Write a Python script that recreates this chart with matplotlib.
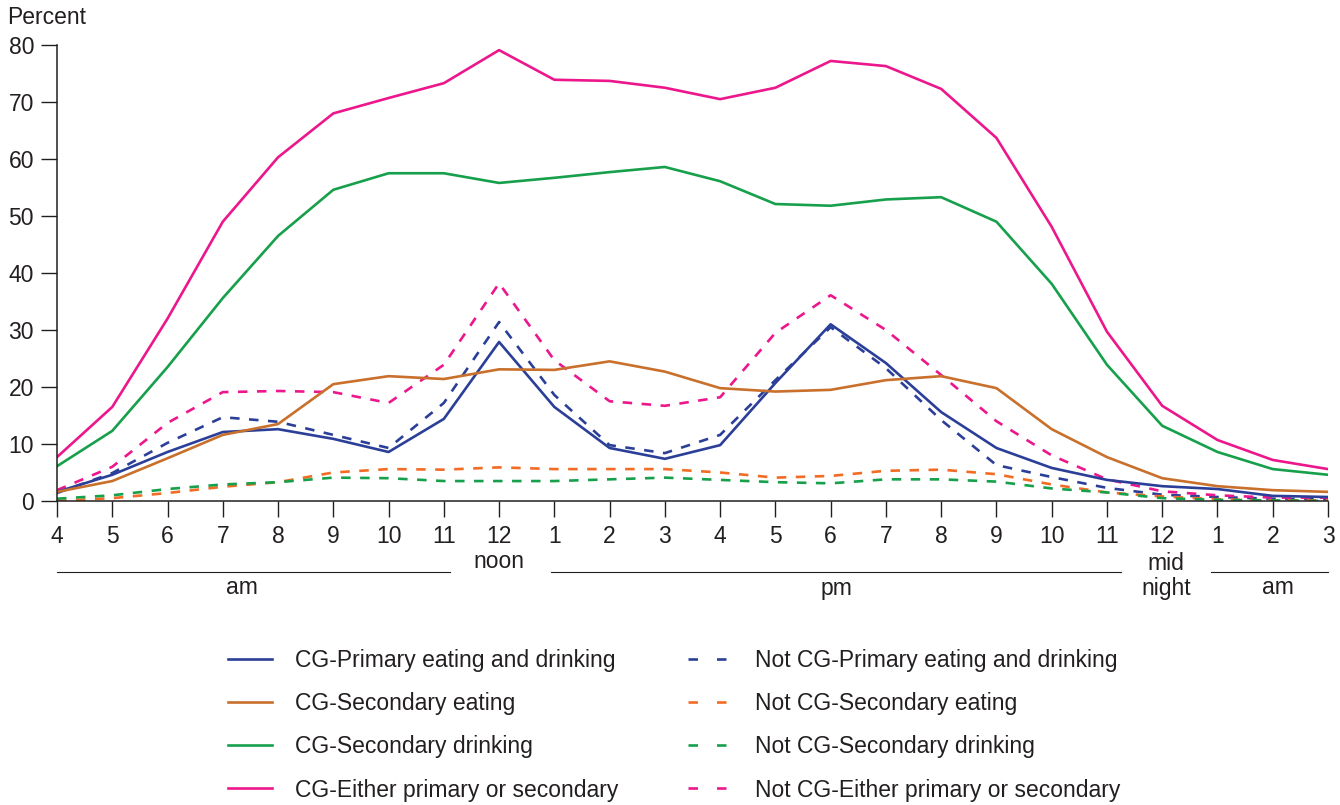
import matplotlib
matplotlib.use("Agg")
import matplotlib.pyplot as plt
from matplotlib.lines import Line2D

plt.rcParams['font.family'] = ['Liberation Sans', 'DejaVu Sans']

hours = ["4", "5", "6", "7", "8", "9", "10", "11", "12", "1", "2", "3", "4", "5", "6",
         "7", "8", "9", "10", "11", "12", "1", "2", "3"]

cg_primary = [1.6, 4.6, 8.6, 12.1, 12.6, 10.9, 8.6, 14.4, 27.9, 16.5, 9.3, 7.4, 9.8, 20.7,
              31.0, 24.2, 15.6, 9.3, 5.8, 3.7, 2.6, 2.1, 0.9, 0.7]
cg_sec_eating = [1.6, 3.5, 7.5, 11.6, 13.5, 20.5, 21.9, 21.4, 23.1, 23.0, 24.5, 22.7, 19.8,
                 19.2, 19.5, 21.2, 21.9, 19.8, 12.6, 7.7, 4.0, 2.6, 1.9, 1.6]
cg_sec_drinking = [6.1, 12.3, 23.5, 35.6, 46.5, 54.6, 57.5, 57.5, 55.8, 56.7, 57.7, 58.6, 56.1,
                   52.1, 51.8, 52.9, 53.3, 49.0, 38.1, 23.9, 13.2, 8.6, 5.6, 4.6]
cg_either = [7.7, 16.5, 32.0, 49.0, 60.3, 68.0, 70.7, 73.3, 79.1, 73.9, 73.7, 72.5, 70.5,
             72.5, 77.2, 76.3, 72.3, 63.7, 48.1, 29.7, 16.7, 10.7, 7.2, 5.6]
not_primary = [1.4, 4.9, 10.2, 14.7, 13.9, 11.6, 9.3, 17.2, 31.4, 18.6, 9.8, 8.4, 11.6, 21.2,
               30.5, 23.3, 14.2, 6.3, 4.2, 2.3, 1.1, 0.7, 0.4, 0.3]
not_sec_eating = [0.0, 0.5, 1.4, 2.5, 3.3, 5.0, 5.6, 5.5, 5.9, 5.6, 5.6, 5.6, 5.0, 4.1, 4.4,
                  5.3, 5.5, 4.7, 2.9, 1.5, 0.8, 0.3, 0.1, 0.1]
not_sec_drinking = [0.4, 1.0, 2.1, 2.9, 3.3, 4.1, 4.0, 3.5, 3.5, 3.5, 3.8, 4.1, 3.7, 3.3, 3.1,
                    3.8, 3.8, 3.4, 2.2, 1.5, 0.5, 0.2, 0.1, 0.0]
not_either = [1.9, 6.0, 13.7, 19.1, 19.3, 19.1, 17.2, 23.9, 38.2, 24.7, 17.5, 16.7, 18.2, 29.5,
              36.1, 30.0, 22.1, 14.0, 8.0, 3.8, 1.7, 1.0, 0.6, 0.6]

labels_cg = ["CG-Primary eating and drinking", "CG-Secondary eating",
             "CG-Secondary drinking", "CG-Either primary or secondary"]
labels_not = ["Not CG-Primary eating and drinking", "Not CG-Secondary eating",
              "Not CG-Secondary drinking", "Not CG-Either primary or secondary"]

col_blue = "#2b3f98"
col_orange = "#c8702c"
col_orange_d = "#f26c24"
col_green = "#17a04b"
col_magenta = "#ec178c"
ink = '#231f20'
FS = 16.5

fig = plt.figure(figsize=(13.4, 8.05), dpi=100)
ax = fig.add_axes([57/1340, 1 - 501/805, (1328 - 57)/1340, (501 - 45)/805])

x = list(range(len(hours)))
lw = 1.9
dash = (3.6, 3.6)

series_solid = [(cg_primary, col_blue), (cg_sec_eating, col_orange),
                (cg_sec_drinking, col_green), (cg_either, col_magenta)]
series_dash = [(not_primary, col_blue), (not_sec_eating, col_orange_d),
               (not_sec_drinking, col_green), (not_either, col_magenta)]

for vals, c in series_dash:
    ax.plot(x, vals, color=c, lw=lw, dashes=dash)
for vals, c in series_solid:
    ax.plot(x, vals, color=c, lw=lw)

ax.set_xlim(0, 23)
ax.set_ylim(0, 80)
ax.set_yticks(range(0, 81, 10))
ax.set_xticks(x)
ax.set_xticklabels(hours)
for s in ['top', 'right']:
    ax.spines[s].set_visible(False)
for s in ['left', 'bottom']:
    ax.spines[s].set_linewidth(1.1)
    ax.spines[s].set_color(ink)
ax.tick_params(axis='both', direction='out', length=11.5, width=1.0, color=ink,
               labelsize=FS, labelcolor=ink)
ax.tick_params(axis='y', pad=5.0)
ax.tick_params(axis='x', pad=6.0)

fig.text(7/1340, 1 - 18/805, "Percent", fontsize=FS, color=ink, ha='left', va='center')

# period annotations below the axis
tr = ax.get_xaxis_transform()
ax_h = 456.0
def yfrac(py):
    return (501 - py) / ax_h

line_y = yfrac(572)
for x0, x1 in [(0, 7.11), (8.94, 19.25), (20.88, 23)]:
    ax.plot([x0, x1], [line_y, line_y], transform=tr, color=ink, lw=0.8, clip_on=False)
ax.text(8, yfrac(562), "noon", transform=tr, ha='center', va='center', fontsize=FS, color=ink)
ax.text(20.07, yfrac(576), "mid\nnight", transform=tr, ha='center', va='center', fontsize=FS,
        color=ink, linespacing=1.15)
ax.text(3.35, yfrac(588), "am", transform=tr, ha='center', va='center', fontsize=FS, color=ink)
ax.text(14.1, yfrac(588), "pm", transform=tr, ha='center', va='center', fontsize=FS, color=ink)
ax.text(22.1, yfrac(588), "am", transform=tr, ha='center', va='center', fontsize=FS, color=ink)

# legends
h_solid = [Line2D([], [], color=c, lw=lw) for _, c in series_solid]
h_dash = [Line2D([], [], color=c, lw=lw, dashes=(3.6, 7.2)) for _, c in series_dash]
common = dict(frameon=False, fontsize=FS, handlelength=1.92, handletextpad=1.0,
              labelspacing=0.88, borderpad=0, borderaxespad=0, loc='upper left',
              labelcolor=ink)
leg1 = fig.legend(h_solid, labels_cg, bbox_to_anchor=(228/1340, 1 - 649/805), **common)
leg2 = fig.legend(h_dash, labels_not, bbox_to_anchor=(688/1340, 1 - 649/805), **common)

fig.savefig("out.png", dpi=100)
